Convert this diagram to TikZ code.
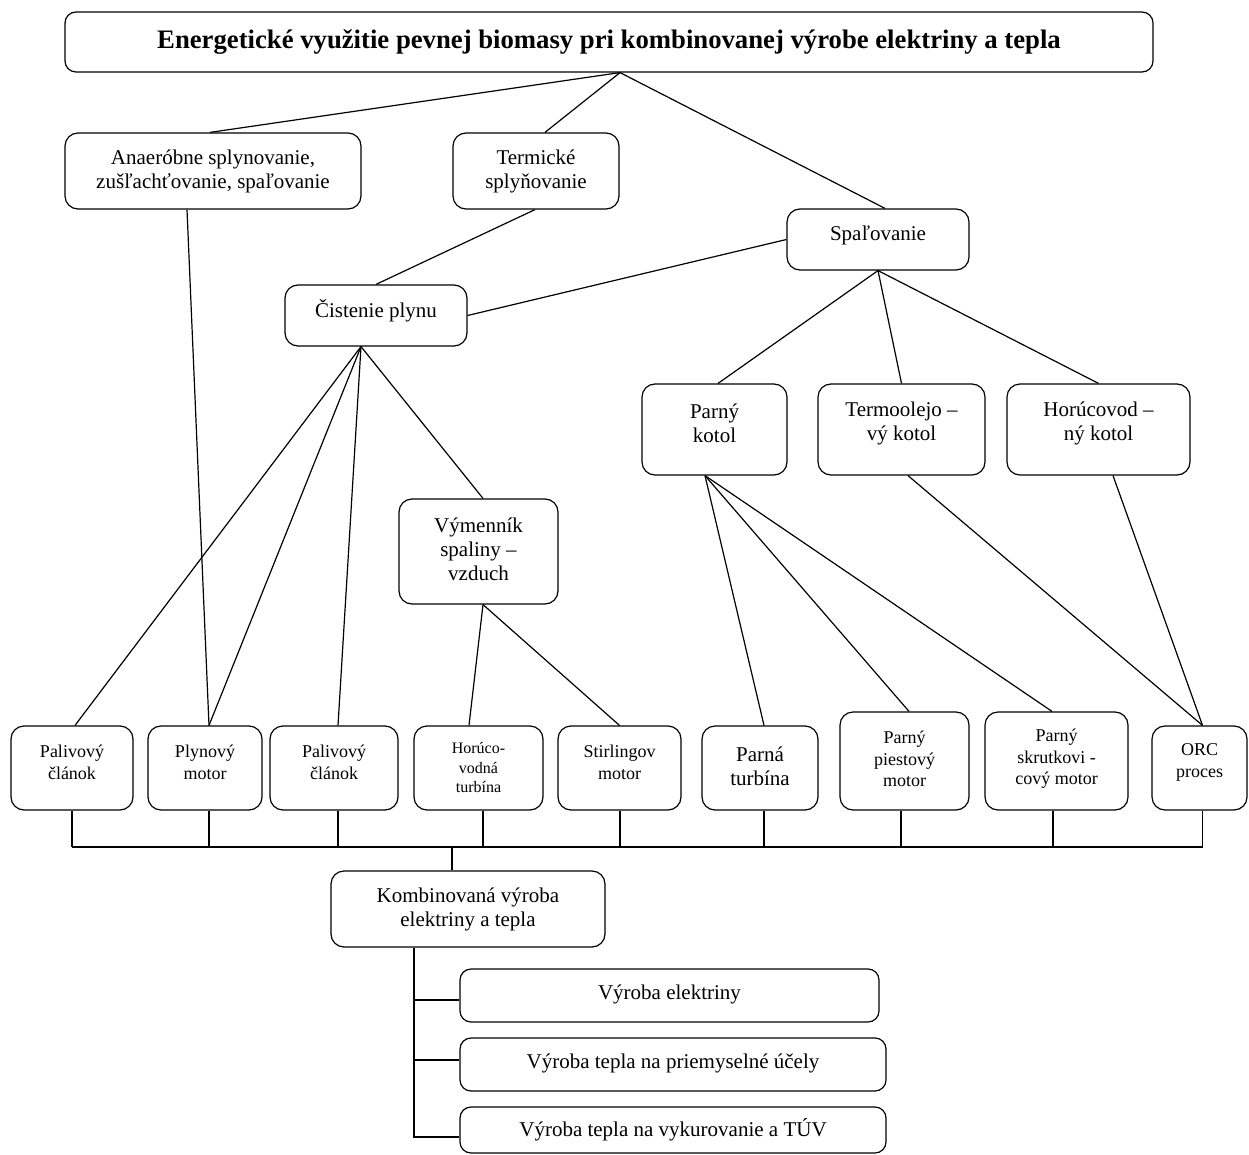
\documentclass[tikz,border=0pt]{standalone}
\usepackage{fontspec}
\setmainfont{Liberation Serif}
% frame node plus a separately placed label node
% #1 name, #2 left, #3 top, #4 right, #5 bottom, #6 label style, #7 label shift, #8 text
\newcommand\mkbox[8]{%
  \node[box, minimum width={(#4-#2)*1pt}, minimum height={(#5-#3)*1pt}]
    (#1) at ({(#2+#4)/2},{(#3+#5)/2}) {};
  \node[lab,#6] (#1-t) at ([yshift=#7pt]#1.center) {#8};}
\begin{document}
\begin{tikzpicture}[x=1pt,y=-1pt,
  box/.style={draw, line width=1.2pt, rounded corners=13pt, inner sep=0pt},
  flat/.style={rounded corners=11pt},
  link/.style={line width=1.2pt},
  lab/.style={inner sep=0pt, align=center},
  big/.style={font=\fontsize{21}{24}\selectfont},
  mid/.style={font=\fontsize{18}{21.5}\selectfont},
  small/.style={font=\fontsize{16}{19.5}\selectfont},
  head/.style={font=\bfseries\fontsize{26.7}{30}\selectfont}]
\useasboundingbox (0,0) rectangle (1249,1155);

% top level
\begin{scope}[box/.append style={flat}]
\mkbox{title}{65}{12}{1153}{72}{head}{0}{Energetické využitie pevnej biomasy pri kombinovanej výrobe elektriny a tepla}
\end{scope}
\mkbox{anaer}{65}{133}{361}{209}{big}{0}{Anaeróbne splynovanie,\\zušľachťovanie, spaľovanie}
\mkbox{term}{453}{133}{619}{209}{big}{0}{Termické\\splyňovanie}
\mkbox{spal}{787}{209}{969}{270}{big}{4}{Spaľovanie}
\mkbox{cist}{285}{285}{467}{346}{big}{5}{Čistenie plynu}

% boilers and exchanger
\mkbox{parkot}{642}{384}{787}{475}{big}{6}{Parný\\kotol}
\mkbox{termo}{818}{384}{985}{475}{big}{6}{Termoolejo –\\vý kotol}
\mkbox{horkot}{1007}{384}{1190}{475}{big}{6}{Horúcovod –\\ný kotol}
\mkbox{vym}{399}{499}{558}{604}{big}{2.5}{Výmenník\\spaliny –\\vzduch}

% conversion units
\mkbox{pal1}{11}{726}{133}{810}{mid}{5.5}{Palivový\\článok}
\mkbox{plyn}{148}{726}{262}{810}{mid}{5.5}{Plynový\\motor}
\mkbox{pal2}{270}{726}{398}{810}{mid}{5.5}{Palivový\\článok}
\mkbox{horturb}{414}{726}{543}{810}{small}{0}{Horúco-\\vodná\\turbína}
\mkbox{stir}{558}{726}{681}{810}{mid}{5.5}{Stirlingov\\motor}
\mkbox{parturb}{702}{726}{818}{810}{big}{2}{Parná\\turbína}
\mkbox{piest}{840}{712}{969}{810}{mid}{2}{Parný\\piestový\\motor}
\mkbox{skrut}{985}{712}{1128}{810}{mid}{2}{Parný\\skrutkovi -\\cový motor}
\mkbox{orc}{1152}{726}{1247}{810}{mid}{5.5}{ORC\\proces}

% outputs
\mkbox{komb}{331}{871}{605}{947}{big}{0}{Kombinovaná výroba\\elektriny a tepla}
\begin{scope}[box/.append style={flat}]
\mkbox{ve}{460}{969}{879}{1022}{big}{1.5}{Výroba elektriny}
\mkbox{vt1}{460}{1038}{886}{1091}{big}{1.5}{Výroba tepla na priemyselné účely}
\mkbox{vt2}{460}{1107}{886}{1153}{big}{0}{Výroba tepla na vykurovanie a TÚV}
\end{scope}

% connectors, upper part
\draw[link] ([xshift=11pt]title.south) -- ([xshift=-3pt]anaer.north);
\draw[link] ([xshift=11pt]title.south) -- ([xshift=9pt]term.north);
\draw[link] ([xshift=11pt]title.south) -- ([xshift=7pt]spal.north);
\draw[link] ([xshift=-1pt]term.south) -- (cist.north);
\draw[link] ([xshift=-26pt]anaer.south) -- ([xshift=4pt]plyn.north);
\draw[link] (spal.west) -- (cist.east);
\draw[link] (spal.south) -- ([xshift=3.5pt]parkot.north);
\draw[link] (spal.south) -- (termo.north);
\draw[link] (spal.south) -- (horkot.north);

% gas cleaning branch
\draw[link] ([xshift=-15pt]cist.south) -- ([xshift=3pt]pal1.north);
\draw[link] ([xshift=-15pt]cist.south) -- ([xshift=4pt]plyn.north);
\draw[link] ([xshift=-15pt]cist.south) -- ([xshift=4pt]pal2.north);
\draw[link] ([xshift=-15pt]cist.south) -- ([xshift=4.5pt]vym.north);
\draw[link] ([xshift=4.5pt]vym.south) -- ([xshift=-9.5pt]horturb.north);
\draw[link] ([xshift=4.5pt]vym.south) -- (stir.north);

% boiler branch
\draw[link] ([xshift=-9.5pt]parkot.south) -- ([xshift=4pt]parturb.north);
\draw[link] ([xshift=-9.5pt]parkot.south) -- ([xshift=4.5pt]piest.north);
\draw[link] ([xshift=-9.5pt]parkot.south) -- ([xshift=-4.5pt]skrut.north);
\draw[link] ([xshift=6.5pt]termo.south) -- ([xshift=3pt]orc.north);
\draw[link] ([xshift=14.5pt]horkot.south) -- ([xshift=3pt]orc.north);

% collecting bus
\coordinate (busL) at (72,847);
\coordinate (busR) at (1203,847);
\coordinate (busM) at (452,847);
\draw[link] (busL) -- (busR);
\foreach \n/\dx in {pal1/0,plyn/4,pal2/4,horturb/4.5,stir/0.5,parturb/4,piest/-3.5,skrut/-3.5,orc/3}{
  \coordinate (a) at ([xshift=\dx pt]\n.south);
  \draw[link] (a) -- (a |- busL);
}
\draw[link] (busM) -- (busM |- komb.north);

% output tree
\coordinate (trunk) at ([xshift=-54pt]komb.south);
\coordinate (b1) at ([yshift=-4.5pt]ve.west);
\coordinate (b2) at ([yshift=4.5pt]vt1.west);
\coordinate (b3) at ([yshift=-7pt]vt2.west);
\draw[link] (trunk) -- (trunk |- b3) -- (b3);
\draw[link] (trunk |- b1) -- (b1);
\draw[link] (trunk |- b2) -- (b2);
\end{tikzpicture}
\end{document}
